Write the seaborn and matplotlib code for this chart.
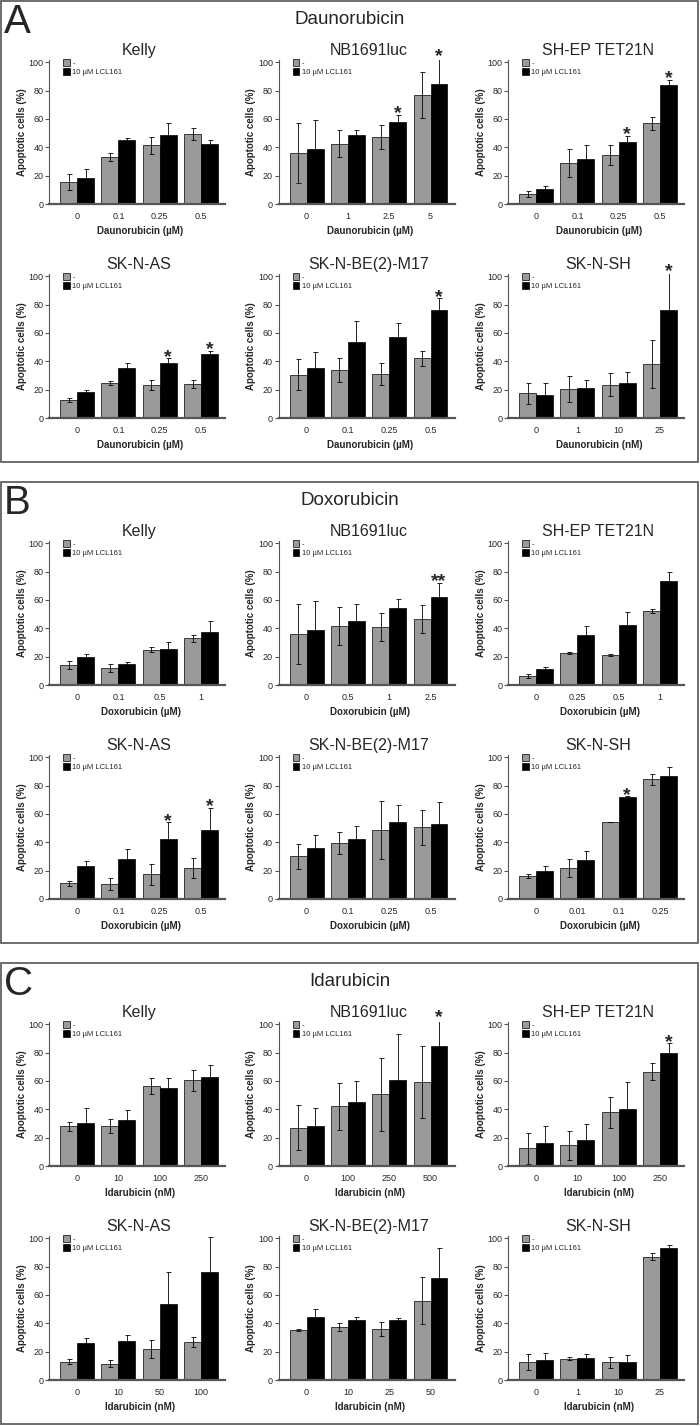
import numpy as np
import pandas as pd
import matplotlib
matplotlib.use('Agg')
import matplotlib.pyplot as plt
import seaborn as sns
from matplotlib.patches import Rectangle

cell_lines = ['Kelly', 'NB1691luc', 'SH-EP TET21N', 'SK-N-AS', 'SK-N-BE(2)-M17', 'SK-N-SH']
treatments = ['-', '10 µM LCL161']
drugs = ['Daunorubicin', 'Doxorubicin', 'Idarubicin']
panel_letters = ['A', 'B', 'C']

# Daunorubicin
dau_doses = [['0', '0.1', '0.25', '0.5'], ['0', '1', '2.5', '5'], ['0', '0.1', '0.25', '0.5'],
             ['0', '0.1', '0.25', '0.5'], ['0', '0.1', '0.25', '0.5'], ['0', '1', '10', '25']]
dau_units = ['µM', 'µM', 'µM', 'µM', 'µM', 'nM']
dau_ctrl = [[15.5, 33, 41.5, 49.5], [36, 42.5, 47, 77], [7, 29, 34.5, 57],
            [12.5, 24.5, 23, 24], [30.5, 34, 31, 42], [17.5, 20.5, 23.5, 38]]
dau_ctrl_sd = [[5.5, 3, 6, 4], [21, 9.5, 8.5, 16], [2, 10, 7, 4.5],
               [1.5, 1.5, 3.5, 3], [11, 8.5, 8, 5.5], [7.5, 9, 8, 17]]
dau_lcl = [[18.5, 45, 49, 42], [38.5, 48.5, 58, 84.5], [10.5, 31.5, 44, 84],
           [18, 35, 39, 45.5], [35, 53.5, 57, 76.5], [16, 21, 24.5, 76.5]]
dau_lcl_sd = [[6, 1.5, 8.5, 3.5], [21, 3.5, 5, 18.5], [2.5, 10, 4, 3.5],
              [1.5, 4, 3, 2], [11.5, 15, 10, 8], [9, 5.5, 8, 26]]
dau_stars = [['', '', '', ''], ['', '', '*', '*'], ['', '', '*', '*'],
             ['', '', '*', '*'], ['', '', '', '*'], ['', '', '', '*']]

# Doxorubicin
dox_doses = [['0', '0.1', '0.5', '1'], ['0', '0.5', '1', '2.5'], ['0', '0.25', '0.5', '1'],
             ['0', '0.1', '0.25', '0.5'], ['0', '0.1', '0.25', '0.5'], ['0', '0.01', '0.1', '0.25']]
dox_units = ['µM', 'µM', 'µM', 'µM', 'µM', 'µM']
dox_ctrl = [[14, 12, 25, 33], [36, 41.5, 41, 46.5], [6.5, 22.5, 21, 52],
            [11, 10.5, 17.5, 22], [30, 39.5, 48.5, 50.5], [16, 22, 54.5, 84.5]]
dox_ctrl_sd = [[3, 2.5, 1.5, 2.5], [21, 13.5, 10, 10], [1.5, 0.8, 0.7, 1.5],
               [2, 4, 7.5, 7], [8.5, 7.5, 20.5, 12.5], [1.5, 6.5, 0, 4]]
dox_lcl = [[19.5, 14.5, 25.5, 37.5], [38.5, 45, 54.5, 62], [11, 35.5, 42, 73.5],
           [23, 28.5, 42, 48.5], [36, 42.5, 54, 53], [19.5, 27.5, 72, 86.5]]
dox_lcl_sd = [[2.5, 1.5, 4.5, 7.5], [21, 12, 6, 10], [1.5, 6, 9.5, 6.5],
              [4, 7, 12, 16], [9, 9, 12.5, 15.5], [4, 6.5, 0.5, 7]]
dox_stars = [['', '', '', ''], ['', '', '', '**'], ['', '', '', ''],
             ['', '', '*', '*'], ['', '', '', ''], ['', '', '*', '']]

# Idarubicin
ida_doses = [['0', '10', '100', '250'], ['0', '100', '250', '500'], ['0', '10', '100', '250'],
             ['0', '10', '50', '100'], ['0', '10', '25', '50'], ['0', '1', '10', '25']]
ida_units = ['nM', 'nM', 'nM', 'nM', 'nM', 'nM']
ida_ctrl = [[28, 28, 56.5, 60.5], [27, 42, 50.5, 59.5], [12.5, 14.5, 38, 66.5],
            [13, 11.5, 22, 27], [35, 37.5, 36, 56], [12.5, 15, 12.5, 87]]
ida_ctrl_sd = [[3, 5, 5.5, 7.5], [16, 16.5, 25.5, 25.5], [11, 10, 11, 6],
               [2, 2.5, 6.5, 3.5], [0.7, 3, 5, 16.5], [5.5, 1, 4, 2.5]]
ida_lcl = [[30, 32.5, 55, 62.5], [28, 45, 60.5, 84.5], [16, 18.5, 40, 80],
           [26, 27.5, 53.5, 76.5], [44.5, 42.5, 42.5, 72], [14, 15.5, 12.5, 93.5]]
ida_lcl_sd = [[11, 7, 7, 8.5], [13, 15, 32.5, 19.5], [12, 11, 19, 6.5],
              [3.5, 4, 23, 24.5], [5.5, 2, 1, 21], [5, 2.5, 5, 1.5]]
ida_stars = [['', '', '', ''], ['', '', '', '*'], ['', '', '', '*'],
             ['', '', '', ''], ['', '', '', ''], ['', '', '', '']]

panels = [
    (dau_doses, dau_units, dau_ctrl, dau_ctrl_sd, dau_lcl, dau_lcl_sd, dau_stars),
    (dox_doses, dox_units, dox_ctrl, dox_ctrl_sd, dox_lcl, dox_lcl_sd, dox_stars),
    (ida_doses, ida_units, ida_ctrl, ida_ctrl_sd, ida_lcl, ida_lcl_sd, ida_stars),
]

sns.set_style('white')
plt.rcParams['font.family'] = ['Liberation Sans', 'DejaVu Sans']

W, H = 700, 1426
palette = {'-': '#9a9a9a', '10 µM LCL161': '#000000'}
axis_grey = '#555555'

fig = plt.figure(figsize=(W / 100, H / 100), dpi=100)

col_left = [49, 278.5, 508]
row_base = [204, 418]
panel_off = [0, 481, 962]
ax_w = 176
ax_h = 1.015 * 141.7

for p in range(3):
    doses_l, units_l, ctrl_l, ctrl_sd_l, lcl_l, lcl_sd_l, stars_l = panels[p]
    off = panel_off[p]

    # panel frame, letter and drug title
    fig.add_artist(Rectangle((1 / W, 1 - (off + 462) / H), 697 / W, 461 / H,
                             transform=fig.transFigure, fill=False,
                             edgecolor=axis_grey, linewidth=1.2))
    fig.text(4 / W, 1 - (off + 3) / H, panel_letters[p], fontsize=29,
             ha='left', va='top')
    fig.text(0.5, 1 - (off + 20) / H, drugs[p], fontsize=13.5,
             ha='center', va='center')

    for i in range(6):
        r, c = i // 3, i % 3
        base = off + row_base[r]
        ax = fig.add_axes([col_left[c] / W, 1 - base / H, ax_w / W, ax_h / H])

        doses = doses_l[i]
        df = pd.DataFrame({
            'dose': doses * 2,
            'treatment': [treatments[0]] * 4 + [treatments[1]] * 4,
            'value': ctrl_l[i] + lcl_l[i],
        })
        sns.barplot(data=df, x='dose', y='value', hue='treatment',
                    order=doses, hue_order=treatments, palette=palette,
                    errorbar=None, width=0.82, edgecolor='black',
                    linewidth=0.5, ax=ax)

        means = [ctrl_l[i], lcl_l[i]]
        sds = [ctrl_sd_l[i], lcl_sd_l[i]]
        for cont, m, s in zip(ax.containers, means, sds):
            xs = [b.get_x() + b.get_width() / 2 for b in cont]
            ax.errorbar(xs, m, yerr=s, fmt='none', ecolor='black',
                        elinewidth=0.6, capsize=1.8, capthick=0.6)

        lcl_bars = ax.containers[1]
        for j, st in enumerate(stars_l[i]):
            if st:
                b = lcl_bars[j]
                ax.annotate(st, (b.get_x() + b.get_width() / 2,
                                 lcl_l[i][j] + lcl_sd_l[i][j]),
                            xytext=(0, -2.5), textcoords='offset points',
                            ha='center', va='baseline', fontsize=14,
                            fontweight='bold', annotation_clip=False)

        ax.set_xlim(-0.68, 3.58)
        ax.set_ylim(0, 101.5)
        ax.set_yticks([0, 20, 40, 60, 80, 100])
        sns.despine(ax=ax)
        ax.spines['left'].set_color(axis_grey)
        ax.spines['left'].set_linewidth(0.8)
        ax.spines['bottom'].set_color(axis_grey)
        ax.spines['bottom'].set_linewidth(1.6)
        ax.tick_params(axis='y', length=3, width=0.8, color=axis_grey,
                       labelsize=6.5, pad=1, left=True)
        ax.tick_params(axis='x', length=0, labelsize=6.5, pad=6)

        ax.set_ylabel('Apoptotic cells (%)', fontsize=7, fontweight='bold')
        ax.yaxis.set_label_coords(-0.125, 0.5)
        ax.set_xlabel(f'{drugs[p]} ({units_l[i]})', fontsize=7,
                      fontweight='bold')
        ax.xaxis.set_label_coords(0.52, -0.155)

        ax.text(0.51, 1.035, cell_lines[i], transform=ax.transAxes,
                ha='center', va='baseline', fontsize=11.5)

        handles, labels = ax.get_legend_handles_labels()
        ax.legend(handles, labels, loc='upper left',
                  bbox_to_anchor=(0.08, 1.01), frameon=False, fontsize=5.5,
                  handlelength=0.9, handleheight=1.0, handletextpad=0.3,
                  labelspacing=0.15, borderaxespad=0, borderpad=0)

fig.savefig('out.png', dpi=100)
